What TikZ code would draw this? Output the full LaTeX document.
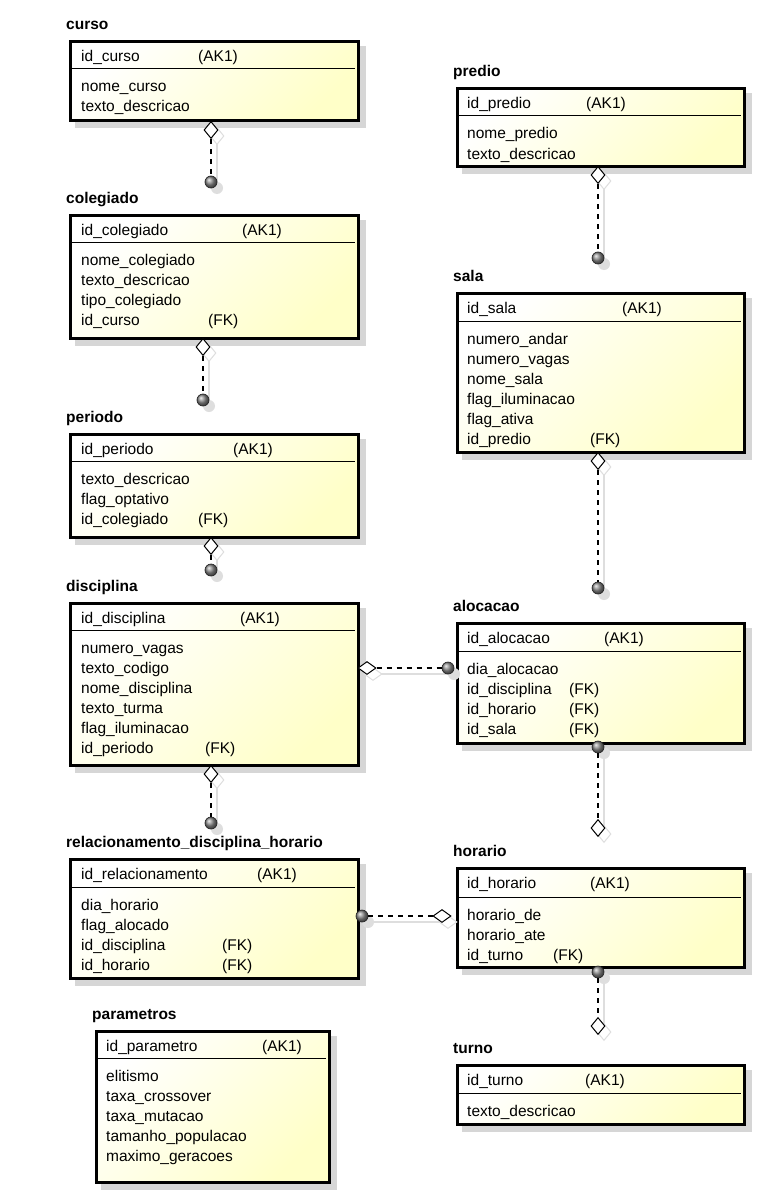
\documentclass[tikz,border=0pt]{standalone}
\usepackage{fontspec}
\setmainfont{Liberation Sans}
\usetikzlibrary{shapes.geometric,shadows,backgrounds}
\definecolor{ylw}{RGB}{255,255,200}
\definecolor{shd}{RGB}{214,214,214}
\definecolor{shl}{RGB}{222,222,222}

\tikzset{
  tbl/.style={draw=black, line width=3pt, top color=white, bottom color=ylw,
    shading angle=45, inner sep=0pt,
    drop shadow={shadow xshift=6pt, shadow yshift=-6pt, fill=shd, draw=shd, opacity=1}},
  hdrline/.style={draw=black, line width=1pt},
  fld/.style={anchor=base west, inner sep=0pt, font=\fontsize{15.5}{18}\selectfont},
  ttl/.style={anchor=base west, inner sep=0pt, font=\bfseries\fontsize{15.5}{18}\selectfont},
  relline/.style={draw=black, line width=1.2pt, dash pattern=on 5pt off 5pt},
  shadowline/.style={draw=shl, line width=1.2pt},
  dia/.style={shape=diamond, draw=black, fill=white, line width=1pt, inner sep=0pt,
    minimum width=14pt, minimum height=17pt,
    drop shadow={shadow xshift=6pt, shadow yshift=-6pt, fill=white, draw=shl, opacity=1}},
  hdia/.style={dia, minimum width=18pt, minimum height=13pt},
  dot/.style={shape=circle, inner sep=0pt, minimum size=12pt, ball color=black!45,
    draw=black!85, line width=0.7pt,
    drop shadow={shadow xshift=6pt, shadow yshift=-6pt, fill=shl, opacity=1}},
}

% table frame: name, left, top, right, bottom, header rule y, title
\newcommand\ertable[7]{%
  \node[tbl, anchor=north west, minimum width={#4-#2-3}, minimum height={#5-#3-3}]
    (#1) at ({#2+1.5},{#3+1.5}) {};
  \draw[hdrline] ({#2+3},#6) -- ({#4-3},#6);
  \node[ttl] (#1-title) at ({#2-1},{#3-9}) {#7};
}
% key row: name, x, baseline, text, x of (AK1)
\newcommand\erkey[5]{%
  \node[fld] (#1-key) at (#2,#3) {#4};
  \node[fld] (#1-ak) at (#5,#3) {(AK1)};
}
% body rows: name, x, first baseline, list of fields
\newcommand\erbody[4]{%
  \foreach \fname [count=\i] in {#4}
    \node[fld] (#1-\i) at (#2,{#3+20*(\i-1)}) {\fname};
}

\begin{document}
\begin{tikzpicture}[x=1pt,y=-1pt]
\useasboundingbox (0,0) rectangle (757,1196);

% ---------- tables ----------
\ertable{curso}{67}{39}{358}{121}{69}{curso}
\erkey{curso}{81}{62}{id\_curso}{198}
\erbody{curso}{81}{92}{nome\_curso,texto\_descricao}

\ertable{predio}{454}{86}{744}{166}{116}{predio}
\erkey{predio}{467}{109}{id\_predio}{586}
\erbody{predio}{467}{139}{nome\_predio,texto\_descricao}

\ertable{colegiado}{67}{212}{358}{338}{242}{colegiado}
\erkey{colegiado}{81}{235}{id\_colegiado}{242}
\erbody{colegiado}{81}{265}{nome\_colegiado,texto\_descricao,tipo\_colegiado,id\_curso}
\node[fld] (colegiado-fk) at (208,325) {(FK)};

\ertable{sala}{454}{290}{744}{452}{321}{sala}
\erkey{sala}{467}{313}{id\_sala}{622}
\erbody{sala}{467}{344}{numero\_andar,numero\_vagas,nome\_sala,flag\_iluminacao,flag\_ativa,id\_predio}
\node[fld] (sala-fk) at (590,444) {(FK)};

\ertable{periodo}{67}{431}{358}{537}{461}{periodo}
\erkey{periodo}{81}{454}{id\_periodo}{233}
\erbody{periodo}{81}{484}{texto\_descricao,flag\_optativo,id\_colegiado}
\node[fld] (periodo-fk) at (198,524) {(FK)};

\ertable{disciplina}{67}{600}{358}{765}{630}{disciplina}
\erkey{disciplina}{81}{623}{id\_disciplina}{240}
\erbody{disciplina}{81}{653}{numero\_vagas,texto\_codigo,nome\_disciplina,texto\_turma,flag\_iluminacao,id\_periodo}
\node[fld] (disciplina-fk) at (205,753) {(FK)};

\ertable{alocacao}{454}{620}{744}{743}{651}{alocacao}
\erkey{alocacao}{467}{643}{id\_alocacao}{604}
\erbody{alocacao}{467}{674}{dia\_alocacao,id\_disciplina,id\_horario,id\_sala}
\foreach \r [count=\k] in {694,714,734}
  \node[fld] (alocacao-fk\k) at (569,\r) {(FK)};

\ertable{reldh}{67}{856}{358}{978}{887}{relacionamento\_disciplina\_horario}
\erkey{reldh}{81}{879}{id\_relacionamento}{257}
\erbody{reldh}{81}{910}{dia\_horario,flag\_alocado,id\_disciplina,id\_horario}
\foreach \r [count=\k] in {950,970}
  \node[fld] (reldh-fk\k) at (222,\r) {(FK)};

\ertable{horario}{454}{865}{744}{967}{897}{horario}
\erkey{horario}{467}{888}{id\_horario}{590}
\erbody{horario}{467}{920}{horario\_de,horario\_ate,id\_turno}
\node[fld] (horario-fk) at (553,960) {(FK)};

\ertable{parametros}{93}{1028}{329}{1182}{1058}{parametros}
\erkey{parametros}{106}{1051}{id\_parametro}{262}
\erbody{parametros}{106}{1081}{elitismo,taxa\_crossover,taxa\_mutacao,tamanho\_populacao,maximo\_geracoes}

\ertable{turno}{454}{1062}{744}{1124}{1093}{turno}
\erkey{turno}{467}{1085}{id\_turno}{585}
\erbody{turno}{467}{1116}{texto\_descricao}

% ---------- relationship ends ----------
\node[dia]  (r1d)  at (211,130)  {};  \node[dot] (r1c)  at (211,182) {};
\node[dia]  (r2d)  at (598,175)  {};  \node[dot] (r2c)  at (598,258) {};
\node[dia]  (r3d)  at (203,347)  {};  \node[dot] (r3c)  at (203,400) {};
\node[dia]  (r4d)  at (598,461)  {};  \node[dot] (r4c)  at (598,588) {};
\node[dia]  (r5d)  at (211,546)  {};  \node[dot] (r5c)  at (211,570) {};
\node[dia]  (r6d)  at (211,774)  {};  \node[dot] (r6c)  at (211,823) {};
\node[hdia] (r7d)  at (367,668)  {};  \node[dot] (r7c)  at (448,668) {};
\node[dot]  (r8c)  at (598,747)  {};  \node[dia] (r8d)  at (598,828) {};
\node[dot]  (r9c)  at (362,916)  {};  \node[hdia] (r9d) at (442,916) {};
\node[dot]  (r10c) at (598,972)  {};  \node[dia] (r10d) at (598,1026) {};

% ---------- relationship lines ----------
\begin{scope}[on background layer]
  \foreach \n in {r1,r2,r3,r4,r5,r6,r7,r8,r9,r10}
    \draw[shadowline] ([shift={(6,6)}]\n d.center) -- ([shift={(6,6)}]\n c.center);
\end{scope}
\draw[relline] (r1d.south) -- (r1c.north);
\draw[relline] (r2d.south) -- (r2c.north);
\draw[relline] (r3d.south) -- (r3c.north);
\draw[relline] (r4d.south) -- (r4c.north);
\draw[relline] (r5d.south) -- (r5c.north);
\draw[relline] (r6d.south) -- (r6c.north);
\draw[relline] (r7d.east)  -- (r7c.west);
\draw[relline] (r8c.south) -- (r8d.north);
\draw[relline] (r9c.east)  -- (r9d.west);
\draw[relline] (r10c.south) -- (r10d.north);
\end{tikzpicture}
\end{document}
